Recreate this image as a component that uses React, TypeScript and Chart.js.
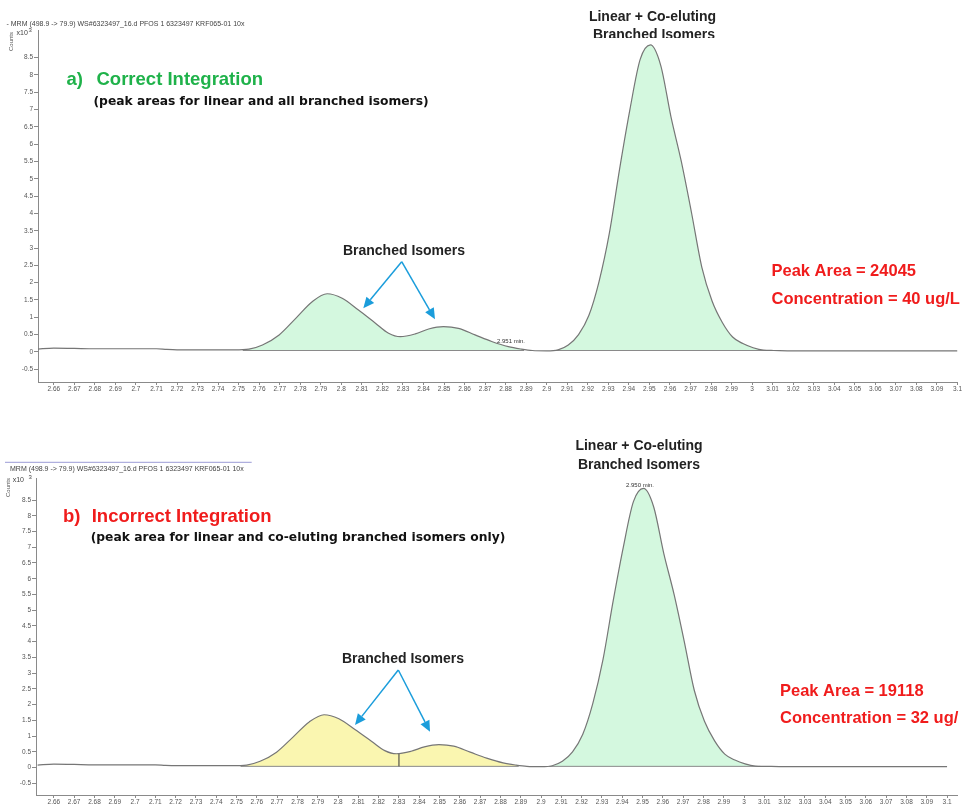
import React, { useEffect, useRef } from "react";
import { Chart, registerables } from "chart.js";

Chart.register(...registerables);

// ---------- DATA ----------
// Retention time (min) of the PFOS MRM trace
const retentionTimes = [
  2.652, 2.66, 2.67, 2.68, 2.69, 2.7, 2.71, 2.715, 2.72, 2.73, 2.74, 2.748, 2.755,
  2.7616, 2.7697, 2.7778, 2.7858, 2.7931, 2.8004, 2.8085, 2.8166, 2.823, 2.8287,
  2.836, 2.8425, 2.8497, 2.857, 2.8651, 2.8732, 2.8813, 2.8877, 2.893, 2.9,
  2.9055, 2.9105, 2.9155, 2.9205, 2.9255, 2.9305, 2.9355, 2.9405, 2.9455, 2.9505,
  2.9555, 2.9605, 2.9655, 2.9705, 2.9755, 2.9805, 2.9855, 2.9905, 2.9955, 3.0005,
  3.0055, 3.0105, 3.02, 3.04, 3.06, 3.08, 3.1,
];
// Counts (x10^3)
const countsK = [
  0.08, 0.11, 0.1, 0.09, 0.09, 0.09, 0.09, 0.07, 0.06, 0.06, 0.06, 0.06, 0.08,
  0.2, 0.49, 0.97, 1.45, 1.68, 1.55, 1.2, 0.83, 0.54, 0.44,
  0.52, 0.66, 0.73, 0.68, 0.49, 0.3, 0.15, 0.08, 0.04, 0.03,
  0.06, 0.2, 0.5, 1.05, 2.04, 3.43, 5.29, 7.0, 8.45, 8.87,
  8.28, 6.79, 5.51, 4.02, 2.45, 1.47, 0.85, 0.43, 0.24, 0.12,
  0.05, 0.04, 0.03, 0.03, 0.03, 0.03, 0.03,
];

const xTickValues = [
  2.66, 2.67, 2.68, 2.69, 2.7, 2.71, 2.72, 2.73, 2.74, 2.75, 2.76, 2.77, 2.78, 2.79,
  2.8, 2.81, 2.82, 2.83, 2.84, 2.85, 2.86, 2.87, 2.88, 2.89, 2.9, 2.91, 2.92, 2.93,
  2.94, 2.95, 2.96, 2.97, 2.98, 2.99, 3.0, 3.01, 3.02, 3.03, 3.04, 3.05, 3.06, 3.07,
  3.08, 3.09, 3.1,
];
const yTickValues = [
  -0.5, 0, 0.5, 1, 1.5, 2, 2.5, 3, 3.5, 4, 4.5, 5, 5.5, 6, 6.5, 7, 7.5, 8, 8.5,
];

const integrationBaseline = 0.04;

const GREEN_FILL = "rgba(210,248,221,0.95)";
const YELLOW_FILL = "rgba(250,246,172,0.95)";

// integration windows (start, end in min)
const windowStartsA = [2.752, 2.904];
const windowEndsA = [2.889, 3.008];
const windowColorsA = [GREEN_FILL, GREEN_FILL];

const windowStartsB = [2.752, 2.83, 2.904];
const windowEndsB = [2.83, 2.889, 3.008];
const windowColorsB = [YELLOW_FILL, YELLOW_FILL, GREEN_FILL];
const splitTimesB = [2.83];

// ---------- HELPERS ----------
function valueAt(t: number): number {
  for (let i = 0; i < retentionTimes.length - 1; i++) {
    const a = retentionTimes[i];
    const b = retentionTimes[i + 1];
    if (t >= a && t <= b) {
      const f = (t - a) / (b - a);
      return countsK[i] + f * (countsK[i + 1] - countsK[i]);
    }
  }
  return countsK[countsK.length - 1];
}

function windowPoints(from: number, to: number) {
  const pts = [{ x: from, y: valueAt(from) }];
  retentionTimes.forEach((t, i) => {
    if (t > from && t < to) pts.push({ x: t, y: countsK[i] });
  });
  pts.push({ x: to, y: valueAt(to) });
  return pts;
}

const trace = retentionTimes.map((t, i) => ({ x: t, y: countsK[i] }));

type Item =
  | { k: "text"; t: string; x: number; y: number; font: string; color: string; align?: CanvasTextAlign; rot?: boolean; clipBottom?: number }
  | { k: "arrow"; x1: number; y1: number; x2: number; y2: number }
  | { k: "line"; x1: number; y1: number; x2: number; y2: number; color: string };

const SMALL = "7px 'Liberation Sans', Arial, sans-serif";
const TINY = "6px 'Liberation Sans', Arial, sans-serif";
const HEAD = "bold 18.5px 'Liberation Sans', Arial, sans-serif";
const SUB = "bold 12.3px 'DejaVu Sans', sans-serif";
const LBL = "bold 14px 'Liberation Sans', Arial, sans-serif";
const RES = "bold 16.5px 'Liberation Sans', Arial, sans-serif";
const GREEN = "#1fb24a";
const RED = "#f01c1c";
const ARROW = "#1b9ddb";

const itemsA: Item[] = [
  { k: "text", t: "- MRM (498.9 -> 79.9) WS#6323497_16.d PFOS 1 6323497 KRF065-01 10x", x: 6.5, y: 24, font: SMALL, color: "#444" },
  { k: "text", t: "Counts", x: 11.5, y: 41.5, font: TINY, color: "#555", align: "center", rot: true },
  { k: "text", t: "x10", x: 16.5, y: 33.5, font: SMALL, color: "#444" },
  { k: "text", t: "3", x: 28.5, y: 30.5, font: TINY, color: "#444" },
  { k: "text", t: "a)", x: 66.5, y: 80, font: HEAD, color: GREEN },
  { k: "text", t: "Correct Integration", x: 96.5, y: 80, font: HEAD, color: GREEN },
  { k: "text", t: "(peak areas for linear and all branched isomers)", x: 93.5, y: 101.5, font: SUB, color: "#111" },
  { k: "text", t: "Linear + Co-eluting", x: 652.5, y: 17, font: LBL, color: "#222", align: "center" },
  { k: "text", t: "Branched Isomers", x: 654, y: 35, font: LBL, color: "#222", align: "center", clipBottom: 38 },
  { k: "text", t: "Branched Isomers", x: 404, y: 251, font: LBL, color: "#222", align: "center" },
  { k: "arrow", x1: 401.7, y1: 261.7, x2: 363.3, y2: 308.3 },
  { k: "arrow", x1: 401.7, y1: 261.7, x2: 435, y2: 319.3 },
  { k: "text", t: "2.951 min.", x: 511, y: 341.7, font: TINY, color: "#333", align: "center" },
  { k: "text", t: "Peak Area = 24045", x: 771.5, y: 271.5, font: RES, color: RED },
  { k: "text", t: "Concentration = 40 ug/L", x: 771.5, y: 299, font: RES, color: RED },
];

const itemsB: Item[] = [
  { k: "line", x1: 5, y1: 62.3, x2: 251.7, y2: 62.3, color: "#9b9bd6" },
  { k: "text", t: "MRM (498.9 -> 79.9) WS#6323497_16.d PFOS 1 6323497 KRF065-01 10x", x: 10, y: 69.3, font: SMALL, color: "#444" },
  { k: "text", t: "Counts", x: 8.3, y: 87.5, font: TINY, color: "#555", align: "center", rot: true },
  { k: "text", t: "x10", x: 12.7, y: 80, font: SMALL, color: "#444" },
  { k: "text", t: "3", x: 28.5, y: 77.3, font: TINY, color: "#444" },
  { k: "text", t: "b)", x: 63, y: 116.7, font: HEAD, color: RED },
  { k: "text", t: "Incorrect Integration", x: 91.7, y: 116.7, font: HEAD, color: RED },
  { k: "text", t: "(peak area for linear and co-eluting branched isomers only)", x: 90.7, y: 138.3, font: SUB, color: "#111" },
  { k: "text", t: "Linear + Co-eluting", x: 639, y: 46, font: LBL, color: "#222", align: "center" },
  { k: "text", t: "Branched Isomers", x: 639, y: 65, font: LBL, color: "#222", align: "center" },
  { k: "text", t: "2.950 min.", x: 640, y: 85, font: TINY, color: "#333", align: "center" },
  { k: "text", t: "Branched Isomers", x: 403, y: 259, font: LBL, color: "#222", align: "center" },
  { k: "arrow", x1: 398.3, y1: 270, x2: 355, y2: 325 },
  { k: "arrow", x1: 398.3, y1: 270, x2: 430, y2: 331.7 },
  { k: "text", t: "Peak Area = 19118", x: 780, y: 291.7, font: RES, color: RED },
  { k: "text", t: "Concentration = 32 ug/", x: 780, y: 318.3, font: RES, color: RED },
];

function drawItems(ctx: CanvasRenderingContext2D, items: Item[]) {
  items.forEach((it) => {
    ctx.save();
    if (it.k === "text") {
      if (it.clipBottom !== undefined) {
        ctx.beginPath();
        ctx.rect(0, 0, ctx.canvas.width, it.clipBottom);
        ctx.clip();
      }
      ctx.font = it.font;
      ctx.fillStyle = it.color;
      ctx.textBaseline = "middle";
      ctx.textAlign = it.align || "left";
      if (it.rot) {
        ctx.translate(it.x, it.y);
        ctx.rotate(-Math.PI / 2);
        ctx.fillText(it.t, 0, 0);
      } else {
        ctx.fillText(it.t, it.x, it.y);
      }
    } else if (it.k === "line") {
      ctx.strokeStyle = it.color;
      ctx.lineWidth = 1;
      ctx.beginPath();
      ctx.moveTo(it.x1, it.y1);
      ctx.lineTo(it.x2, it.y2);
      ctx.stroke();
    } else {
      const ang = Math.atan2(it.y2 - it.y1, it.x2 - it.x1);
      const hl = 11;
      const hw = 5;
      const bx = it.x2 - hl * Math.cos(ang);
      const by = it.y2 - hl * Math.sin(ang);
      ctx.strokeStyle = ARROW;
      ctx.fillStyle = ARROW;
      ctx.lineWidth = 1.5;
      ctx.beginPath();
      ctx.moveTo(it.x1, it.y1);
      ctx.lineTo(bx, by);
      ctx.stroke();
      ctx.beginPath();
      ctx.moveTo(it.x2, it.y2);
      ctx.lineTo(bx + hw * Math.sin(ang), by - hw * Math.cos(ang));
      ctx.lineTo(bx - hw * Math.sin(ang), by + hw * Math.cos(ang));
      ctx.closePath();
      ctx.fill();
    }
    ctx.restore();
  });
}

type PanelSpec = {
  height: number;
  xMin: number;
  xMax: number;
  yMin: number;
  yMax: number;
  yAxisWidth: number;
  xAxisHeight: number;
  padTop: number;
  padRight: number;
  starts: number[];
  ends: number[];
  colors: string[];
  splits: number[];
  items: Item[];
};

function buildConfig(p: PanelSpec): any {
  const datasets: any[] = [];
  datasets.push({
    data: trace,
    borderColor: "#767676",
    borderWidth: 1.2,
    pointRadius: 0,
    fill: false,
    cubicInterpolationMode: "monotone",
    order: 0,
  });
  p.starts.forEach((s, i) => {
    datasets.push({
      data: windowPoints(s, p.ends[i]),
      borderColor: "rgba(0,0,0,0)",
      borderWidth: 0,
      backgroundColor: p.colors[i],
      fill: { value: integrationBaseline },
      pointRadius: 0,
      cubicInterpolationMode: "monotone",
      order: 3,
    });
    datasets.push({
      data: [
        { x: s, y: integrationBaseline },
        { x: p.ends[i], y: integrationBaseline },
      ],
      borderColor: "#8a8a8a",
      borderWidth: 1,
      pointRadius: 0,
      fill: false,
      order: 2,
    });
  });
  p.splits.forEach((t) => {
    datasets.push({
      data: [
        { x: t, y: integrationBaseline },
        { x: t, y: valueAt(t) },
      ],
      borderColor: "#333",
      borderWidth: 1,
      pointRadius: 0,
      fill: false,
      order: 1,
    });
  });

  const tickFont = { family: "'Liberation Sans', Arial, sans-serif", size: 6.5 };

  return {
    type: "line",
    data: { datasets },
    options: {
      animation: false,
      responsive: false,
      layout: {
        autoPadding: false,
        padding: { top: p.padTop, right: p.padRight, left: 0, bottom: 0 },
      },
      plugins: {
        legend: { display: false },
        tooltip: { enabled: false },
        title: { display: false },
      },
      scales: {
        x: {
          type: "linear",
          min: p.xMin,
          max: p.xMax,
          afterBuildTicks: (s: any) => {
            s.ticks = xTickValues
              .filter((v) => v >= s.min - 1e-9 && v <= s.max + 1e-9)
              .map((v) => ({ value: v }));
          },
          afterFit: (s: any) => {
            s.height = p.xAxisHeight;
          },
          ticks: {
            autoSkip: false,
            maxRotation: 0,
            minRotation: 0,
            padding: 0,
            font: tickFont,
            color: "#555",
            callback: (v: any) => String(Number(Number(v).toFixed(2))),
          },
          grid: {
            display: true,
            drawOnChartArea: false,
            drawTicks: true,
            tickLength: 3,
            color: "#8a8a8a",
          },
          border: { display: true, color: "#8a8a8a", width: 1 },
        },
        y: {
          type: "linear",
          min: p.yMin,
          max: p.yMax,
          afterBuildTicks: (s: any) => {
            s.ticks = yTickValues.map((v) => ({ value: v }));
          },
          afterFit: (s: any) => {
            s.width = p.yAxisWidth;
          },
          ticks: {
            padding: 1,
            font: tickFont,
            color: "#555",
            callback: (v: any) => String(v),
          },
          grid: {
            display: true,
            drawOnChartArea: false,
            drawTicks: true,
            tickLength: 4,
            color: "#8a8a8a",
          },
          border: { display: true, color: "#8a8a8a", width: 1 },
        },
      },
    },
    plugins: [
      {
        id: "annotations",
        afterDraw: (chart: any) => drawItems(chart.ctx, p.items),
      },
    ],
  };
}

const panelA: PanelSpec = {
  height: 400,
  xMin: 2.6523,
  xMax: 3.1,
  yMin: -0.87,
  yMax: 9.3,
  yAxisWidth: 38,
  xAxisHeight: 18,
  padTop: 30,
  padRight: 1.2,
  starts: windowStartsA,
  ends: windowEndsA,
  colors: windowColorsA,
  splits: [],
  items: itemsA,
};

const panelB: PanelSpec = {
  height: 407,
  xMin: 2.6512,
  xMax: 3.1049,
  yMin: -0.87,
  yMax: 9.2,
  yAxisWidth: 36,
  xAxisHeight: 12,
  padTop: 78,
  padRight: 5,
  starts: windowStartsB,
  ends: windowEndsB,
  colors: windowColorsB,
  splits: splitTimesB,
  items: itemsB,
};

function Panel({ spec, top }: { spec: PanelSpec; top: number }) {
  const ref = useRef<HTMLCanvasElement | null>(null);
  useEffect(() => {
    if (!ref.current) return;
    const chart = new Chart(ref.current, buildConfig(spec));
    return () => chart.destroy();
  }, [spec]);
  return (
    <canvas
      ref={ref}
      width={962}
      height={spec.height}
      style={{ position: "absolute", left: 0, top, width: 962, height: spec.height }}
    />
  );
}

export default function App() {
  return (
    <div
      style={{
        position: "absolute",
        left: 0,
        top: 0,
        width: 962,
        height: 807,
        background: "#ffffff",
        overflow: "hidden",
      }}
    >
      <Panel spec={panelA} top={0} />
      <Panel spec={panelB} top={400} />
    </div>
  );
}
